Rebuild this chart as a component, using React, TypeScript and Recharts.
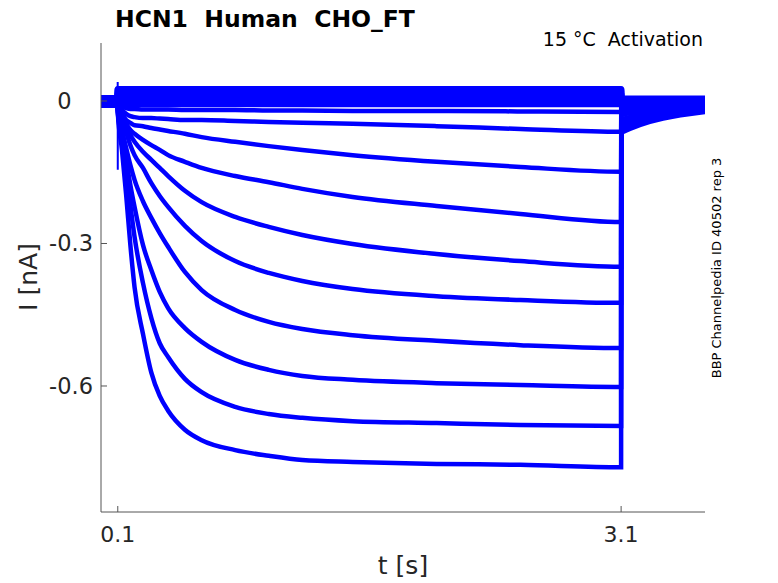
import { LineChart, Line, XAxis, YAxis } from "recharts"

document.body.style.margin = "0"

// sample times [s]: holding, step onset at 0.1 s, step end at 3.1 s, tail
const times = [0, 0.099, 0.1, 0.125, 0.15, 0.175, 0.2, 0.25, 0.3, 0.35, 0.4, 0.5, 0.6, 0.8, 1.0, 1.2, 1.5, 2.0, 2.5, 3.1, 3.101, 3.6]

// current traces [nA], from the smallest to the largest activation step
const trace01 = [0.005, 0.005, 0.024, 0.024, 0.024, 0.024, 0.024, 0.024, 0.024, 0.024, 0.024, 0.024, 0.024, 0.024, 0.024, 0.024, 0.024, 0.024, 0.024, 0.024, 0.004, 0.004]
const trace02 = [0.003, 0.003, 0.014, 0.014, 0.014, 0.014, 0.014, 0.014, 0.014, 0.014, 0.014, 0.014, 0.014, 0.014, 0.014, 0.014, 0.014, 0.014, 0.014, 0.014, 0.002, 0.002]
const trace03 = [0.001, 0.001, 0.005, 0.005, 0.005, 0.005, 0.005, 0.005, 0.005, 0.005, 0.005, 0.005, 0.005, 0.005, 0.005, 0.005, 0.005, 0.005, 0.005, 0.005, 0, 0]
const trace04 = [-0.001, -0.001, -0.003, -0.005, -0.006, -0.006, -0.006, -0.006, -0.006, -0.006, -0.006, -0.006, -0.006, -0.006, -0.006, -0.006, -0.006, -0.006, -0.006, -0.006, -0.004, -0.002]
const trace05 = [-0.002, -0.002, -0.004, -0.011, -0.015, -0.017, -0.017, -0.018, -0.018, -0.018, -0.018, -0.019, -0.019, -0.019, -0.02, -0.02, -0.021, -0.021, -0.022, -0.023, -0.008, -0.004]
const trace06 = [-0.003, -0.003, -0.006, -0.019, -0.027, -0.032, -0.034, -0.036, -0.036, -0.037, -0.038, -0.04, -0.04, -0.042, -0.044, -0.046, -0.048, -0.053, -0.059, -0.065, -0.015, -0.006]
const trace07 = [-0.004, -0.004, -0.008, -0.027, -0.04, -0.046, -0.051, -0.053, -0.057, -0.06, -0.063, -0.069, -0.076, -0.086, -0.095, -0.103, -0.114, -0.128, -0.139, -0.149, -0.021, -0.008]
const trace08 = [-0.005, -0.005, -0.013, -0.034, -0.048, -0.061, -0.069, -0.082, -0.093, -0.103, -0.114, -0.128, -0.141, -0.158, -0.171, -0.185, -0.202, -0.221, -0.238, -0.255, -0.029, -0.011]
const trace09 = [-0.006, -0.006, -0.015, -0.036, -0.055, -0.072, -0.086, -0.107, -0.124, -0.141, -0.158, -0.189, -0.213, -0.244, -0.265, -0.282, -0.301, -0.322, -0.337, -0.349, -0.038, -0.013]
const trace10 = [-0.007, -0.007, -0.017, -0.044, -0.067, -0.093, -0.114, -0.141, -0.173, -0.2, -0.223, -0.263, -0.295, -0.337, -0.362, -0.379, -0.396, -0.411, -0.419, -0.425, -0.044, -0.015]
const trace11 = [-0.008, -0.008, -0.019, -0.061, -0.099, -0.135, -0.166, -0.211, -0.246, -0.278, -0.307, -0.36, -0.398, -0.44, -0.465, -0.48, -0.493, -0.505, -0.514, -0.52, -0.051, -0.017]
const trace12 = [-0.008, -0.008, -0.021, -0.072, -0.124, -0.177, -0.223, -0.303, -0.356, -0.402, -0.436, -0.478, -0.507, -0.545, -0.566, -0.579, -0.587, -0.594, -0.598, -0.602, -0.057, -0.019]
const trace13 = [-0.009, -0.009, -0.023, -0.082, -0.145, -0.219, -0.286, -0.383, -0.457, -0.51, -0.539, -0.585, -0.613, -0.644, -0.659, -0.667, -0.674, -0.678, -0.682, -0.684, -0.063, -0.021]
const trace14 = [-0.01, -0.01, -0.023, -0.103, -0.198, -0.303, -0.392, -0.49, -0.572, -0.621, -0.652, -0.692, -0.714, -0.735, -0.747, -0.756, -0.76, -0.764, -0.766, -0.771, -0.067, -0.023]

// capacitive artefact at step onset
const transientTimes = [0.0995, 0.1, 0.1005]
const transientValues = [0.04, -0.145, -0.02]

const xTicks = [0.1, 3.1]
const yTicks = [-0.6, -0.3, 0]

const traces = [trace01, trace02, trace03, trace04, trace05, trace06, trace07, trace08, trace09, trace10, trace11, trace12, trace13, trace14]

const rows = times.map((t, k) => {
  const row: Record<string, number> = { t }
  traces.forEach((tr, j) => {
    row["c" + j] = tr[k]
  })
  return row
})

const transientRows = transientTimes.map((t, k) => ({ t, v: transientValues[k] }))

const BLUE = "#0000ff"
const FONT = "DejaVu Sans"

export default function App() {
  return (
    <div style={{ position: "relative", width: 778, height: 583, background: "#fff", fontFamily: FONT }}>
      <LineChart
        width={778}
        height={583}
        data={rows}
        margin={{ top: 43, right: 73, bottom: 41, left: 41 }}
        style={{ fontFamily: FONT }}
      >
        <XAxis
          dataKey="t"
          type="number"
          domain={[0, 3.6]}
          allowDataOverflow
          ticks={xTicks}
          height={30}
          tickSize={-6}
          tickMargin={20}
          tick={{ fontSize: 22, fill: "#262626" }}
          tickFormatter={(v: number) => v.toFixed(1)}
          axisLine={{ stroke: "#555", strokeWidth: 1 }}
          tickLine={{ stroke: "#555", strokeWidth: 1 }}
        />
        <YAxis
          type="number"
          domain={[-0.8653, 0.1221]}
          allowDataOverflow
          ticks={yTicks}
          width={60}
          tickSize={-6}
          tickMargin={14}
          tick={{ fontSize: 22.5, fill: "#262626" }}
          tickFormatter={(v: number) => (v === 0 ? "0\u00a0\u00a0\u00a0" : String(v))}
          axisLine={{ stroke: "#555", strokeWidth: 1 }}
          tickLine={{ stroke: "#555", strokeWidth: 1 }}
        />
        {traces.map((_, j) => (
          <Line
            key={j}
            dataKey={"c" + j}
            type="monotone"
            stroke={BLUE}
            strokeWidth={j < 4 ? 7 : 4.5}
            dot={false}
            isAnimationActive={false}
          />
        ))}
        <Line
          data={transientRows}
          dataKey="v"
          type="linear"
          stroke={BLUE}
          strokeWidth={2}
          dot={false}
          isAnimationActive={false}
        />
      </LineChart>
      <svg
        width={778}
        height={583}
        style={{ position: "absolute", left: 0, top: 0, pointerEvents: "none", fontFamily: FONT }}
      >
        <text x={115} y={27} fontSize={23.5} fontWeight="bold" fill="#000">
          {"HCN1\u00a0\u00a0Human\u00a0\u00a0CHO_FT"}
        </text>
        <text x={703} y={46} fontSize={19} textAnchor="end" fill="#000">
          {"15 °C\u00a0\u00a0Activation"}
        </text>
        <text transform="translate(37,277) rotate(-90)" fontSize={25} textAnchor="middle" fill="#262626">
          I [nA]
        </text>
        <text x={403} y={574} fontSize={25} textAnchor="middle" fill="#262626">
          t [s]
        </text>
        <text transform="translate(721,268) rotate(-90)" fontSize={13} textAnchor="middle" fill="#000">
          BBP Channelpedia ID 40502 rep 3
        </text>
      </svg>
    </div>
  )
}
